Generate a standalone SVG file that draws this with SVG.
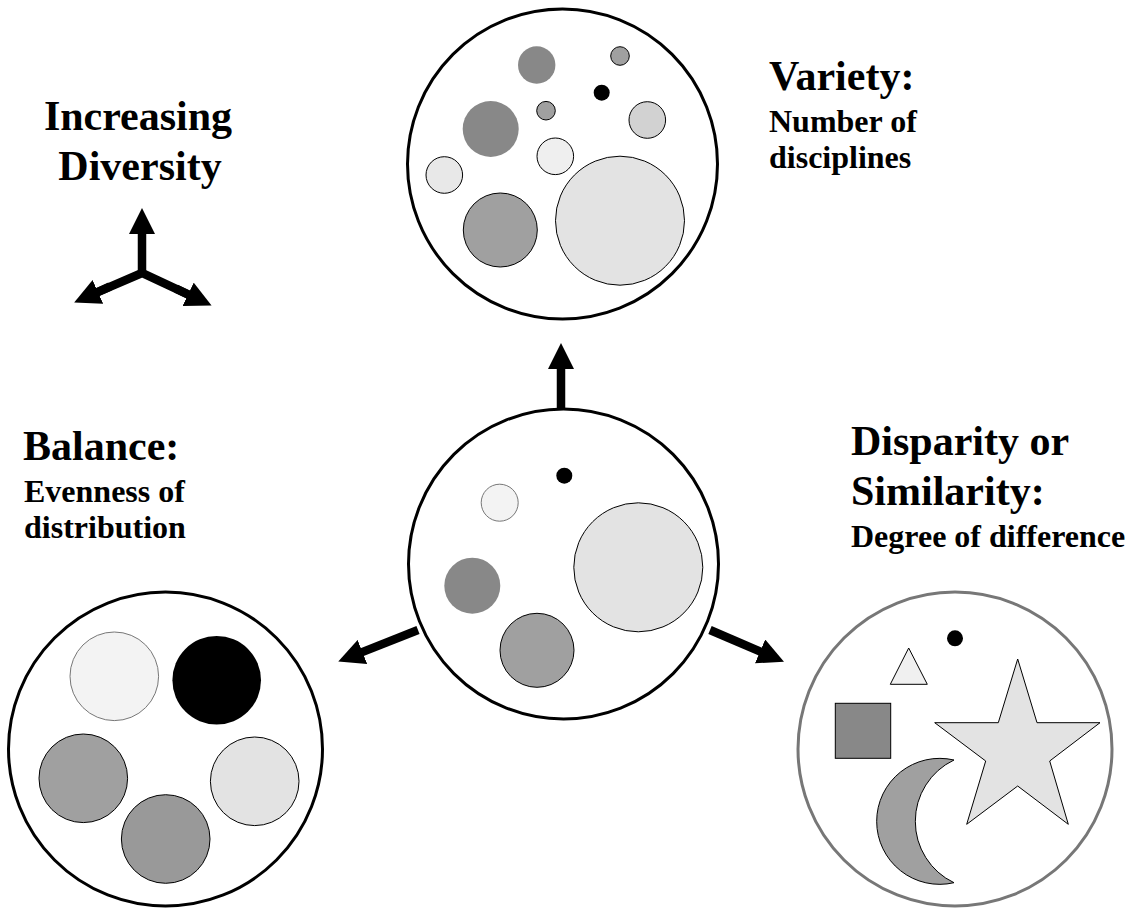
<svg xmlns="http://www.w3.org/2000/svg" width="1134" height="919" viewBox="0 0 1134 919">
<style>
.title{font-family:"Liberation Serif","Times New Roman",serif;font-weight:bold;font-size:42px;fill:#000}
.sub{font-family:"Liberation Serif","Times New Roman",serif;font-weight:bold;font-size:32px;fill:#000}
.outer{fill:#fff;stroke:#000;stroke-width:3}
.in{stroke:#000;stroke-width:1}
.conn{stroke:#000;stroke-width:8.5;fill:none}
</style>
<defs>
<marker id="ah" markerUnits="userSpaceOnUse" markerWidth="26" markerHeight="26" refX="1" refY="13" orient="auto" viewBox="0 0 26 26">
<path d="M0,0 L26,13 L0,26 z" fill="#000"/>
</marker>
</defs>
<rect width="1134" height="919" fill="#fff"/>

<g id="legend">
<text class="title" x="138" y="130" text-anchor="middle">Increasing</text>
<text class="title" x="140" y="180" text-anchor="middle">Diversity</text>
<path d="M142,277 L142,233" class="conn" marker-end="url(#ah)"/>
<path d="M97,292.3 L142,273 L189,294.8" class="conn" stroke-linejoin="miter"/>
<path d="M110,286.5 L97,292.3" class="conn" marker-end="url(#ah)"/>
<path d="M176,288.6 L189,294.8" class="conn" marker-end="url(#ah)"/>
</g>

<g id="variety">
<circle class="outer" cx="562.5" cy="164" r="155"/>
<circle cx="536.7" cy="65" r="18.7" fill="#888"/>
<circle class="in" cx="620" cy="56" r="9.3" fill="#a0a0a0"/>
<circle cx="601.7" cy="92.7" r="8" fill="#000"/>
<circle class="in" cx="546" cy="110.7" r="9.3" fill="#a0a0a0"/>
<circle cx="490.7" cy="129" r="28" fill="#888"/>
<circle class="in" cx="647.3" cy="120" r="18.3" fill="#d2d2d2"/>
<circle class="in" cx="555.3" cy="156.3" r="18.3" fill="#efefef"/>
<circle class="in" cx="444.3" cy="175" r="18.3" fill="#e8e8e8"/>
<circle class="in" cx="500.3" cy="230" r="37" fill="#a0a0a0"/>
<circle class="in" cx="620" cy="220.7" r="64.5" fill="#e3e3e3"/>
<text class="title" x="769" y="90">Variety:</text>
<text class="sub" x="769" y="132">Number of</text>
<text class="sub" x="769" y="168">disciplines</text>
</g>

<g id="center">
<circle class="outer" cx="563.5" cy="564" r="155"/>
<circle cx="564.3" cy="475.7" r="8" fill="#000"/>
<circle cx="499.7" cy="502.7" r="18.5" fill="#f3f3f3" stroke="#777" stroke-width="1"/>
<circle class="in" cx="638.3" cy="567.3" r="64.5" fill="#e3e3e3"/>
<circle cx="472.3" cy="585.7" r="28" fill="#888"/>
<circle class="in" cx="537" cy="650.3" r="37" fill="#a0a0a0"/>
</g>

<g id="balance">
<circle class="outer" cx="165.5" cy="749" r="157"/>
<circle cx="114.3" cy="676.3" r="44.3" fill="#f3f3f3" stroke="#777" stroke-width="1"/>
<circle cx="216.7" cy="680.3" r="44.3" fill="#000"/>
<circle class="in" cx="83.3" cy="778.3" r="44.3" fill="#a0a0a0"/>
<circle class="in" cx="254.7" cy="781.3" r="44.3" fill="#e3e3e3"/>
<circle class="in" cx="165.7" cy="839" r="44.3" fill="#999"/>
<text class="title" x="23" y="460">Balance:</text>
<text class="sub" x="24" y="502">Evenness of</text>
<text class="sub" x="24" y="538">distribution</text>
</g>

<g id="disparity">
<circle cx="955" cy="749" r="157" fill="#fff" stroke="#777" stroke-width="3"/>
<circle cx="955" cy="638.3" r="8" fill="#000"/>
<polygon class="in" points="908.7,648 890.3,684.3 927.3,684.3" fill="#f0f0f0"/>
<rect class="in" x="835.3" y="703.3" width="55.4" height="55" fill="#888"/>
<polygon class="in" points="1017.7,659 1037,722.7 1100,722.7 1049.7,761 1068.3,824.3 1017.7,786 966.7,824.3 985.7,761 934.7,722.7 998.3,722.7" fill="#e3e3e3"/>
<path class="in" d="M954,760 A63 63 0 1 0 954,882.7 A68 68 0 0 1 954,760 z" fill="#a0a0a0"/>
<text class="title" x="851" y="455">Disparity or</text>
<text class="title" x="851" y="505">Similarity:</text>
<text class="sub" x="851" y="547">Degree of difference</text>
</g>

<g id="connectors">
<path class="conn" d="M561,409 L561,368" marker-end="url(#ah)"/>
<path class="conn" d="M418,630 L361.5,652.4" marker-end="url(#ah)"/>
<path class="conn" d="M710,630 L761,651.8" marker-end="url(#ah)"/>
</g>
</svg>
